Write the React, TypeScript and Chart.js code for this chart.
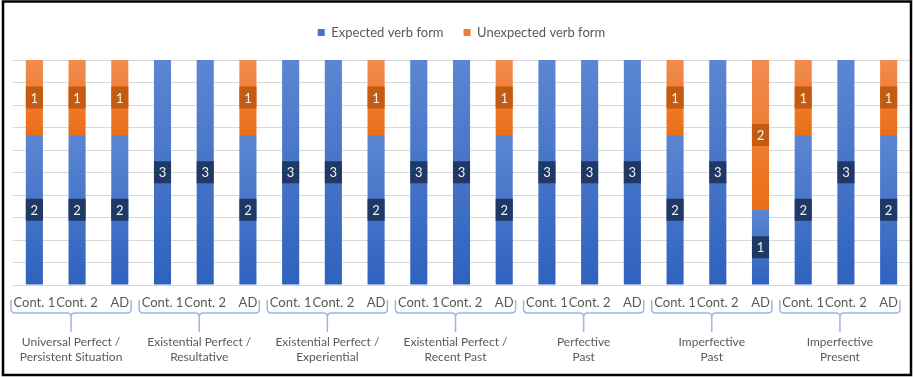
import React, { useEffect, useRef } from "react";
import { Chart, registerables } from "chart.js";

Chart.register(...registerables);

// ---- data ----
const groupLabels: string[][] = [
  ["Universal Perfect /", "Persistent Situation"],
  ["Existential Perfect /", "Resultative"],
  ["Existential Perfect /", "Experiential"],
  ["Existential Perfect /", "Recent Past"],
  ["Perfective", "Past"],
  ["Imperfective", "Past"],
  ["Imperfective", "Present"],
];
const subLabels = ["Cont. 1", "Cont. 2", "AD"];
const categories = groupLabels.flatMap(() => subLabels);

const expectedForm = [2, 2, 2, 3, 3, 2, 3, 3, 2, 3, 3, 2, 3, 3, 3, 2, 3, 1, 2, 3, 2];
const unexpectedForm = [1, 1, 1, 0, 0, 1, 0, 0, 1, 0, 0, 1, 0, 0, 0, 1, 0, 2, 1, 0, 1];

const gridTicks = [0, 0.3, 0.6, 0.9, 1.2, 1.5, 1.8, 2.1, 2.4, 2.7, 3];

// ---- styles ----
const FONT = "Lato, 'Open Sans', sans-serif";
const TEXT_COLOR = "#595959";
const BLUE = "#4472C4";
const ORANGE = "#ED7D31";
const BLUE_LIGHT = "#5B86D2";
const BLUE_DARK = "#2F62BE";
const ORANGE_LIGHT = "#F18C50";
const ORANGE_DARK = "#EB6E16";
const BLUE_LABEL = "#1F3864";
const ORANGE_LABEL = "#C55A11";
const BRACKET = "#9DB6E3";

function segmentGradient(ctx: any, light: string, dark: string, solid: string) {
  const chart = ctx.chart;
  if (!chart.chartArea || ctx.type !== "data") return solid;
  const y = chart.scales.y;
  const i = ctx.dataIndex;
  const e = expectedForm[i];
  const u = unexpectedForm[i];
  let top: number, bottom: number;
  if (ctx.datasetIndex === 0) {
    top = y.getPixelForValue(e);
    bottom = y.getPixelForValue(0);
  } else {
    top = y.getPixelForValue(e + u);
    bottom = y.getPixelForValue(e);
  }
  if (!isFinite(top) || !isFinite(bottom) || Math.abs(bottom - top) < 1) return solid;
  const g = chart.ctx.createLinearGradient(0, top, 0, bottom);
  g.addColorStop(0, light);
  g.addColorStop(1, dark);
  return g;
}

const legendSpacer = {
  id: "legendSpacer",
  afterInit(chart: any) {
    const lg = chart.legend;
    if (!lg) return;
    const orig = lg.fit.bind(lg);
    lg.fit = function () {
      orig();
      this.height += 11;
    };
  },
};

const valueLabels = {
  id: "valueLabels",
  afterDatasetsDraw(chart: any) {
    const ctx = chart.ctx;
    ctx.save();
    ctx.font = `13px ${FONT}`;
    ctx.textAlign = "center";
    ctx.textBaseline = "middle";
    chart.data.datasets.forEach((ds: any, d: number) => {
      const meta = chart.getDatasetMeta(d);
      meta.data.forEach((bar: any, i: number) => {
        const v = ds.data[i];
        if (!v) return;
        const p = bar.getProps(["x", "y", "base", "width"], true);
        const cy = (p.y + p.base) / 2;
        ctx.fillStyle = d === 0 ? BLUE_LABEL : ORANGE_LABEL;
        ctx.fillRect(p.x - p.width / 2, cy - 11, p.width, 22);
        ctx.fillStyle = "#F2F2F2";
        ctx.fillText(String(v), p.x, cy + 1);
      });
    });
    ctx.restore();
  },
};

const groupAxis = {
  id: "groupAxis",
  afterDraw(chart: any) {
    const ctx = chart.ctx;
    const x = chart.scales.x;
    const half = (x.getPixelForValue(1) - x.getPixelForValue(0)) / 2;
    ctx.save();
    groupLabels.forEach((lines, g) => {
      const start = x.getPixelForValue(g * 3) - half;
      const end = x.getPixelForValue(g * 3 + 2) + half;
      const left = start - 2;
      const right = end - 10;
      const mid = (left + right) / 2;
      const yTop = 300;
      const yLine = 313;
      const r = 4;
      ctx.strokeStyle = BRACKET;
      ctx.lineWidth = 1.5;
      ctx.beginPath();
      ctx.moveTo(left, yTop);
      ctx.lineTo(left, yLine - r);
      ctx.quadraticCurveTo(left, yLine, left + r, yLine);
      ctx.lineTo(mid - r, yLine);
      ctx.quadraticCurveTo(mid, yLine, mid, yLine + r);
      ctx.lineTo(mid, 332);
      ctx.moveTo(right, yTop);
      ctx.lineTo(right, yLine - r);
      ctx.quadraticCurveTo(right, yLine, right - r, yLine);
      ctx.lineTo(mid + r, yLine);
      ctx.quadraticCurveTo(mid, yLine, mid, yLine + r);
      ctx.stroke();

      ctx.fillStyle = TEXT_COLOR;
      ctx.font = `12px ${FONT}`;
      ctx.textAlign = "center";
      ctx.textBaseline = "middle";
      lines.forEach((t, k) => ctx.fillText(t, mid, 342 + k * 15.5));
    });
    // outer frame
    ctx.strokeStyle = "#000";
    ctx.lineWidth = 2.5;
    ctx.strokeRect(3, 1.5, 908, 373.5);
    ctx.restore();
  },
};

export default function App() {
  const ref = useRef<HTMLCanvasElement | null>(null);
  useEffect(() => {
    document.body.style.margin = "0";
    const canvas = ref.current;
    if (!canvas) return;
    const chart = new Chart(canvas, {
      type: "bar",
      data: {
        labels: categories,
        datasets: [
          {
            label: "Expected verb form",
            data: expectedForm,
            backgroundColor: (c: any) => segmentGradient(c, BLUE_LIGHT, BLUE_DARK, BLUE),
            borderWidth: 0,
            barPercentage: 0.4,
            categoryPercentage: 1,
          },
          {
            label: "Unexpected verb form",
            data: unexpectedForm,
            backgroundColor: (c: any) => segmentGradient(c, ORANGE_LIGHT, ORANGE_DARK, ORANGE),
            borderWidth: 0,
            barPercentage: 0.4,
            categoryPercentage: 1,
          },
        ],
      },
      options: {
        responsive: false,
        animation: false,
        layout: { padding: { top: 6, left: 13, right: 4, bottom: 4 } },
        plugins: {
          legend: {
            position: "top",
            labels: {
              boxWidth: 7,
              boxHeight: 7,
              padding: 20,
              color: TEXT_COLOR,
              font: { family: FONT, size: 13 },
              generateLabels: (ch: any) => {
                const items = Chart.defaults.plugins.legend.labels.generateLabels(ch);
                items.forEach((it: any, k: number) => {
                  it.fillStyle = k === 0 ? BLUE : ORANGE;
                  it.strokeStyle = k === 0 ? BLUE : ORANGE;
                  it.lineWidth = 0;
                });
                return items;
              },
            },
          },
          tooltip: { enabled: false },
        },
        scales: {
          x: {
            stacked: true,
            grid: { display: false, drawTicks: false },
            border: { display: true, color: "#D9D9D9" },
            ticks: {
              autoSkip: false,
              maxRotation: 0,
              minRotation: 0,
              padding: 10,
              color: TEXT_COLOR,
              font: { family: FONT, size: 13 },
            },
            afterFit: (s: any) => {
              s.height = 88;
            },
          },
          y: {
            stacked: true,
            min: 0,
            max: 3,
            grid: { color: "#D9D9D9", drawTicks: false },
            border: { display: false },
            ticks: { display: false },
            afterBuildTicks: (s: any) => {
              s.ticks = gridTicks.map((v) => ({ value: v }));
            },
          },
        },
      },
      plugins: [legendSpacer, valueLabels, groupAxis],
    });
    return () => chart.destroy();
  }, []);
  return (
    <div style={{ width: 914, height: 377, background: "#fff" }}>
      <canvas ref={ref} width={914} height={377} style={{ display: "block" }} />
    </div>
  );
}
